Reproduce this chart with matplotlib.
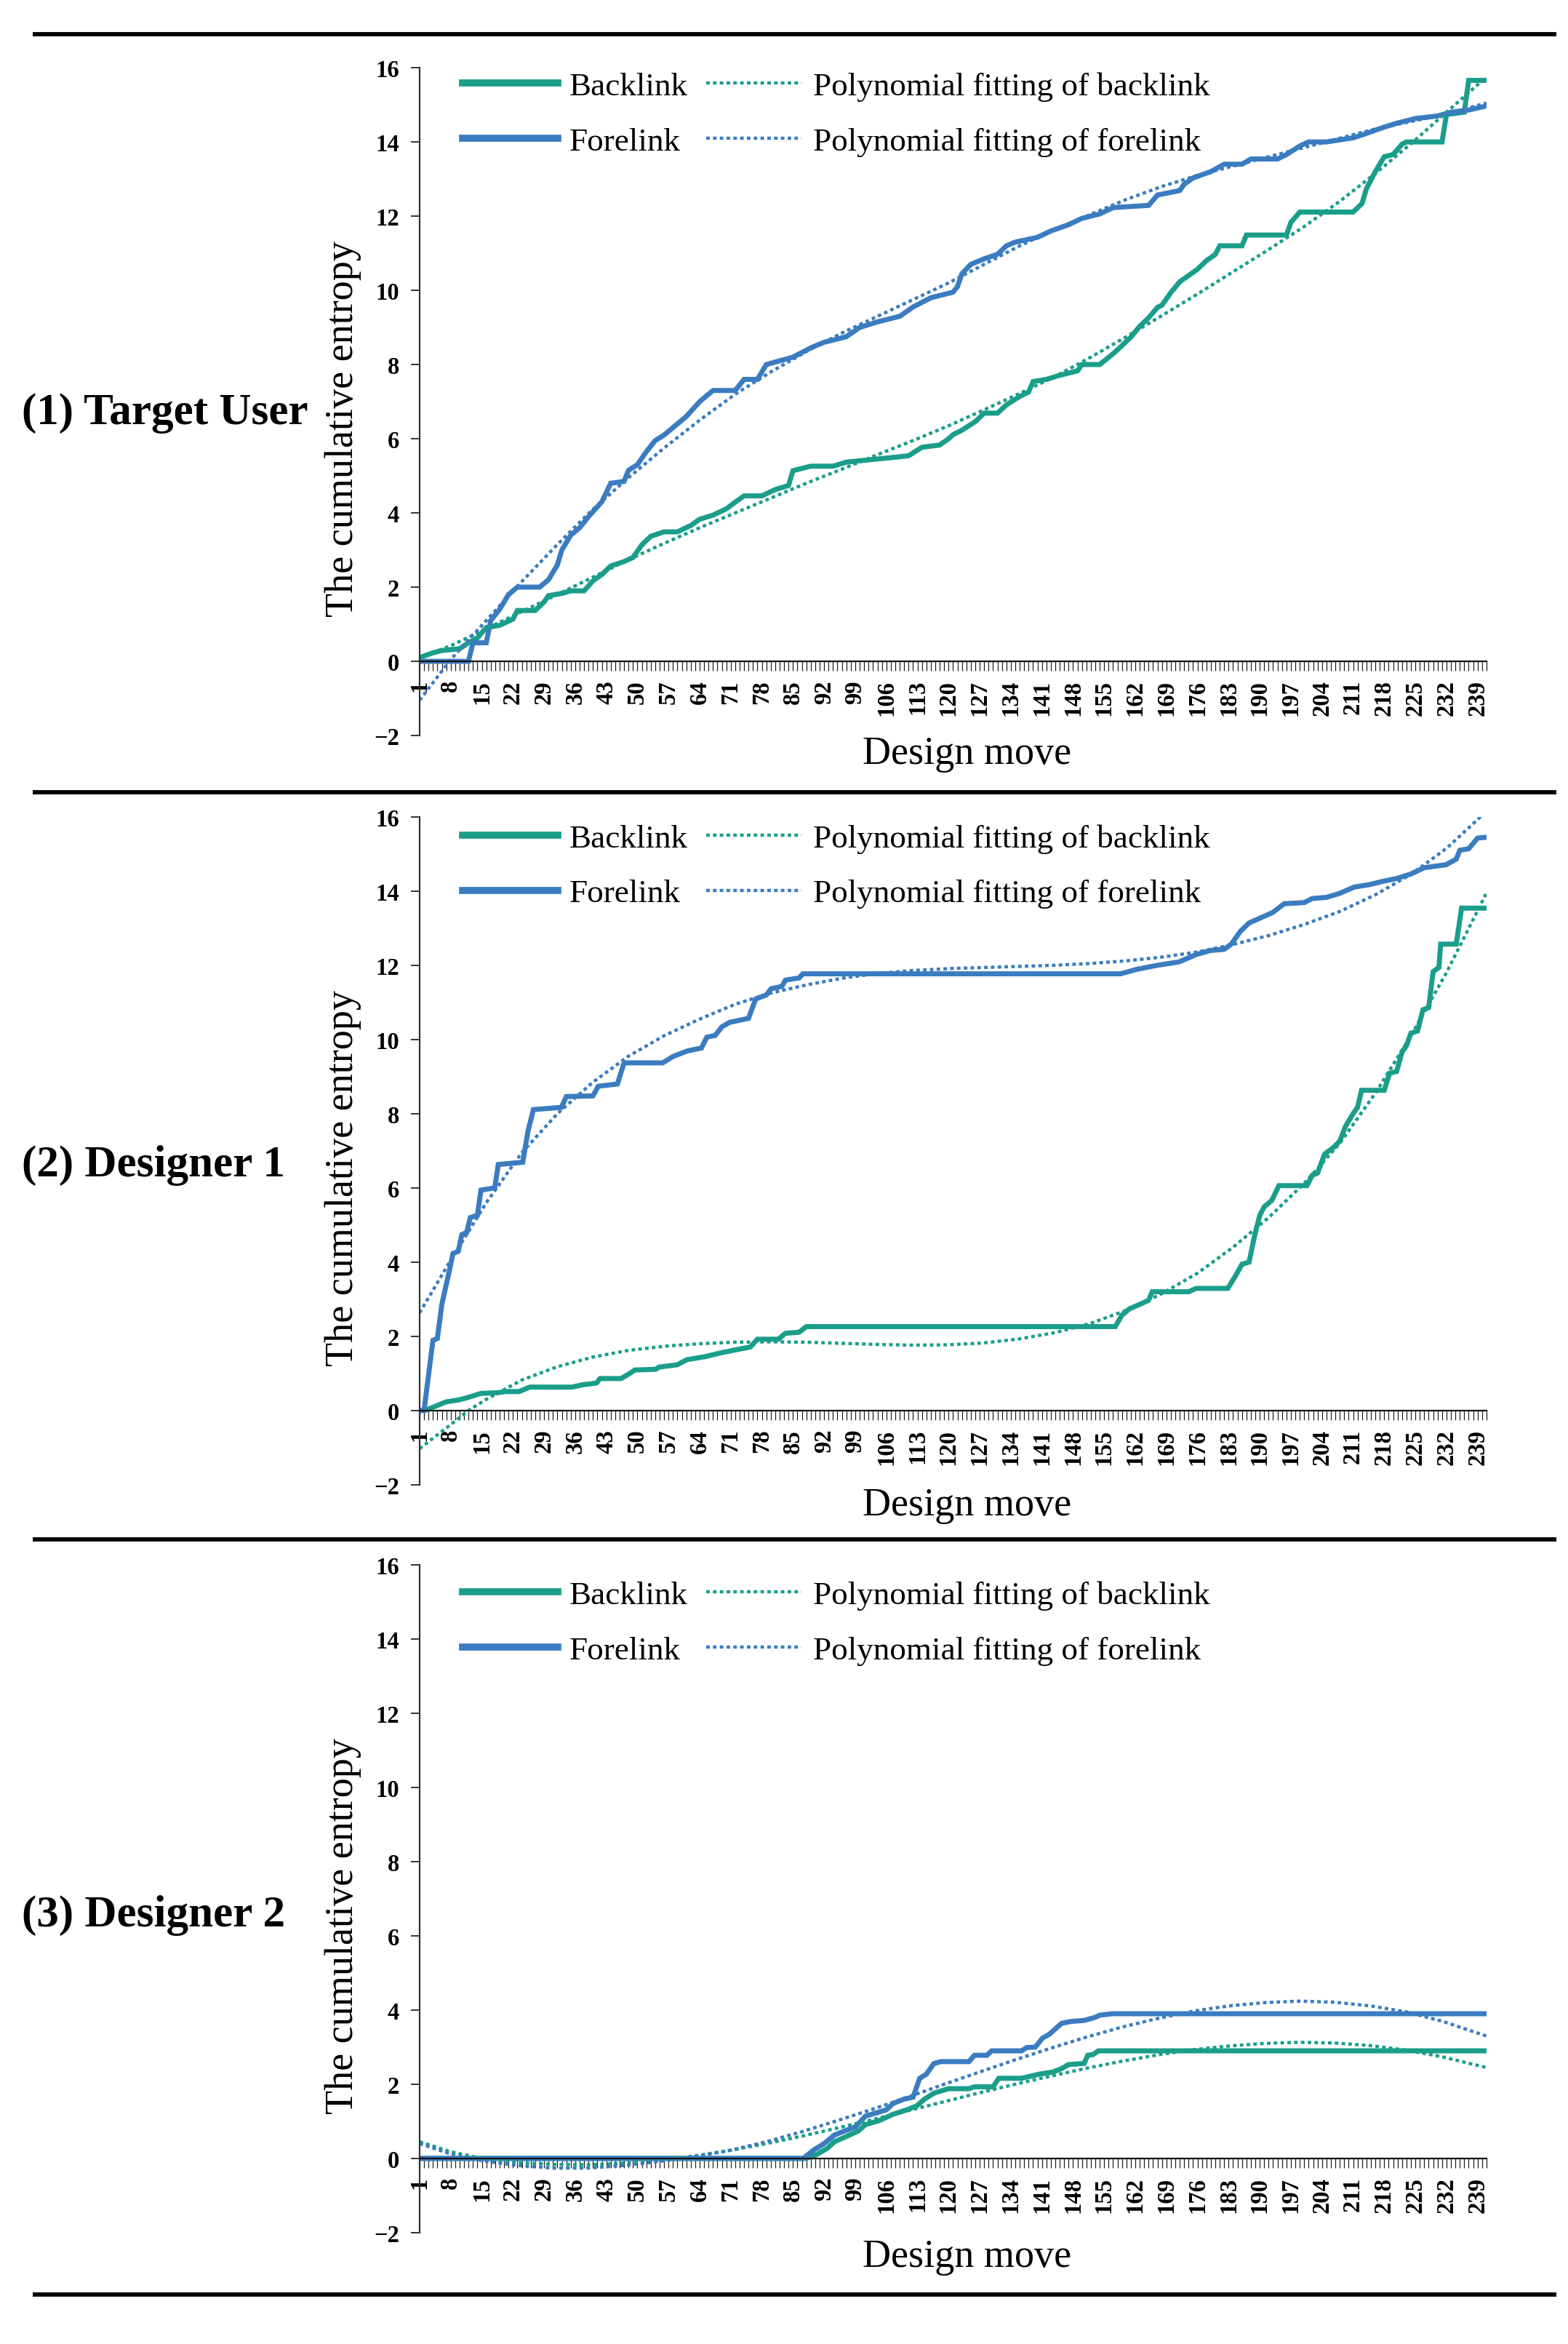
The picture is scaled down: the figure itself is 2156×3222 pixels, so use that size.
import matplotlib
matplotlib.use("Agg")
import matplotlib.pyplot as plt
from matplotlib.lines import Line2D
from matplotlib.font_manager import FontProperties

plt.rcParams['font.family'] = ['Liberation Serif', 'DejaVu Serif']
plt.rcParams['axes.unicode_minus'] = True

# ---------------- data ----------------
moves = list(range(1, 242))                 # design-move categories
label_moves = list(range(1, 240, 7))        # labelled categories 1, 8, ..., 239
y_ticks = [-2, 0, 2, 4, 6, 8, 10, 12, 14, 16]

panel_titles = ['(1) Target User', '(2) Designer 1', '(3) Designer 2']
series_names = ['Backlink', 'Forelink',
                'Polynomial fitting of backlink', 'Polynomial fitting of forelink']
x_title = 'Design move'
y_title = 'The cumulative entropy'

# (1) Target user -- cumulative entropy (move, value) change points
p1_back = [(1, 0.1), (4, 0.23), (6, 0.29), (10, 0.34), (12, 0.5), (14, 0.63), (16, 0.91), (19, 0.97),
           (22, 1.14), (23, 1.37), (27, 1.37), (29, 1.6), (30, 1.77), (33, 1.83), (35, 1.9), (38, 1.9),
           (40, 2.17), (42, 2.34), (44, 2.57), (47, 2.69), (49, 2.8), (51, 3.14), (53, 3.37), (56, 3.49),
           (59, 3.49), (62, 3.66), (64, 3.83), (67, 3.94), (70, 4.11), (72, 4.29), (74, 4.46), (78, 4.46),
           (81, 4.63), (84, 4.74), (85, 5.14), (89, 5.26), (94, 5.26), (97, 5.37), (102, 5.43), (107, 5.49),
           (111, 5.54), (114, 5.77), (118, 5.83), (120, 6.0), (121, 6.11), (123, 6.23), (126, 6.46),
           (128, 6.69), (131, 6.69), (133, 6.91), (136, 7.14), (138, 7.26), (139, 7.54), (142, 7.6),
           (145, 7.71), (149, 7.83), (150, 8.0), (154, 8.0), (157, 8.29), (159, 8.51), (161, 8.74),
           (163, 9.03), (165, 9.26), (167, 9.54), (168, 9.6), (170, 9.94), (172, 10.23), (174, 10.4),
           (176, 10.57), (178, 10.8), (180, 10.97), (181, 11.2), (186, 11.2), (187, 11.49), (196, 11.49),
           (197, 11.83), (199, 12.11), (211, 12.11), (213, 12.34), (214, 12.74), (216, 13.2), (218, 13.6),
           (220, 13.66), (222, 13.94), (223, 14.0), (231, 14.0), (232, 14.74), (236, 14.8), (237, 15.66),
           (241, 15.66)]
p1_fore = [(1, 0.0), (12, 0.0), (13, 0.5), (16, 0.5), (17, 1.1), (19, 1.4), (21, 1.8), (23, 2.0), (28, 2.0),
           (30, 2.2), (32, 2.6), (33, 3.0), (35, 3.4), (37, 3.6), (39, 3.9), (42, 4.3), (44, 4.8), (47, 4.85),
           (48, 5.15), (50, 5.3), (52, 5.65), (54, 5.95), (56, 6.1), (58, 6.3), (61, 6.6), (64, 7.0),
           (67, 7.3), (72, 7.3), (74, 7.6), (77, 7.6), (79, 8.0), (82, 8.1), (85, 8.2), (89, 8.45), (92, 8.6),
           (97, 8.75), (100, 9.0), (104, 9.15), (109, 9.3), (112, 9.55), (116, 9.8), (121, 9.95), (122, 10.1),
           (123, 10.45), (125, 10.7), (128, 10.85), (131, 10.97), (133, 11.2), (135, 11.3), (140, 11.43),
           (143, 11.6), (147, 11.77), (150, 11.94), (154, 12.06), (157, 12.23), (165, 12.29), (167, 12.57),
           (172, 12.69), (173, 12.86), (175, 13.03), (179, 13.2), (182, 13.4), (186, 13.4), (188, 13.54),
           (194, 13.54), (196, 13.66), (199, 13.89), (201, 14.0), (205, 14.0), (211, 14.11), (214, 14.23),
           (218, 14.4), (221, 14.51), (225, 14.63), (230, 14.7), (233, 14.8), (237, 14.86), (241, 14.97)]
p1_back_fit = [(1, 0.1), (8, 0.42), (16, 0.88), (24, 1.34), (32, 1.8), (40, 2.27), (48, 2.74), (56, 3.18),
               (64, 3.6), (72, 4.0), (80, 4.4), (88, 4.8), (96, 5.18), (104, 5.57), (112, 5.95), (120, 6.35),
               (128, 6.78), (136, 7.22), (144, 7.68), (152, 8.2), (160, 8.75), (168, 9.32), (176, 9.9),
               (184, 10.5), (192, 11.1), (200, 11.72), (208, 12.4), (216, 13.15), (224, 13.95), (232, 14.8),
               (241, 15.75)]
p1_fore_fit = [(1, -1.05), (8, 0.05), (16, 1.1), (24, 2.15), (32, 3.15), (40, 4.1), (48, 4.95), (56, 5.75),
               (64, 6.5), (72, 7.2), (80, 7.8), (88, 8.35), (96, 8.85), (104, 9.3), (112, 9.75), (120, 10.2),
               (128, 10.7), (136, 11.2), (144, 11.65), (152, 12.05), (160, 12.45), (168, 12.8), (176, 13.1),
               (184, 13.35), (192, 13.6), (200, 13.85), (208, 14.1), (216, 14.35), (224, 14.55), (232, 14.75),
               (241, 15.05)]

# (2) Designer 1
p2_back = [(1, 0.0), (2.2, 0.0), (4.5, 0.11), (6.9, 0.23), (10, 0.29), (11.6, 0.34), (14.8, 0.46), (18.7, 0.48),
           (20.3, 0.51), (23.4, 0.51), (25.8, 0.63), (35.3, 0.63), (37.6, 0.69), (40.8, 0.74), (41.6, 0.86),
           (46.3, 0.86), (47.9, 0.97), (49.4, 1.09), (54.1, 1.11), (54.9, 1.17), (58.9, 1.23), (61.2, 1.37),
           (65.2, 1.45), (68.3, 1.54), (71.5, 1.62), (75.4, 1.71), (77, 1.92), (81.7, 1.92), (83.3, 2.08),
           (86.4, 2.11), (88, 2.26), (157.5, 2.26), (159, 2.57), (160.7, 2.74), (163, 2.86), (165, 2.97),
           (165.8, 3.2), (174, 3.2), (175.7, 3.29), (182.8, 3.29), (184.4, 3.6), (186, 3.94), (187.6, 4.0),
           (188.8, 4.69), (190, 5.26), (191, 5.49), (192.7, 5.66), (194.3, 6.06), (200.6, 6.06), (201.8, 6.34),
           (203, 6.4), (204.6, 6.91), (206.6, 7.09), (208, 7.26), (209.3, 7.66), (211, 8.0), (212, 8.17),
           (212.9, 8.63), (218, 8.63), (219.2, 9.09), (220.8, 9.14), (222, 9.66), (223, 9.83), (224, 10.17),
           (225.5, 10.23), (226.7, 10.8), (228, 10.86), (229, 11.83), (230.3, 11.94), (230.7, 12.57),
           (234.2, 12.57), (235.4, 13.54), (241, 13.54)]
p2_fore = [(1, 0.0), (2, 0.0), (4, 1.89), (5, 1.94), (6, 2.86), (7.7, 3.77), (8.5, 4.23), (9.7, 4.29),
           (10.5, 4.74), (11.6, 4.8), (12.4, 5.2), (14, 5.26), (14.8, 5.94), (17.9, 6.0), (18.7, 6.63),
           (24.2, 6.69), (25.4, 7.54), (26.6, 8.11), (32.9, 8.17), (34, 8.46), (40, 8.48), (41.2, 8.74),
           (45.5, 8.8), (47, 9.37), (55.7, 9.37), (58, 9.54), (61.2, 9.69), (64.4, 9.77), (65.6, 10.06),
           (67.5, 10.11), (69, 10.34), (70.7, 10.46), (75, 10.57), (76.6, 11.09), (79, 11.2), (80.1, 11.37),
           (82.5, 11.43), (83.3, 11.6), (86.4, 11.66), (87.2, 11.77), (158.7, 11.77), (162.3, 11.89),
           (167, 12.0), (171.8, 12.09), (173.4, 12.17), (175.7, 12.29), (179, 12.4), (182, 12.43),
           (183.6, 12.57), (185.6, 12.91), (187.6, 13.14), (190.8, 13.31), (193, 13.43), (195.5, 13.66),
           (200, 13.69), (201.8, 13.8), (205, 13.83), (208, 13.94), (211.3, 14.11), (214.5, 14.17),
           (217.6, 14.26), (220.8, 14.34), (224, 14.46), (227, 14.63), (231.9, 14.71), (234.2, 14.86),
           (235, 15.1), (237, 15.14), (239, 15.43), (241, 15.45)]
p2_back_fit = [(1, -1.03), (8, -0.38), (12, 0.0), (16, 0.3), (24, 0.82), (32, 1.18), (40, 1.44), (48, 1.62),
               (56, 1.73), (64, 1.8), (72, 1.84), (80, 1.85), (88, 1.84), (96, 1.81), (104, 1.78), (112, 1.76),
               (120, 1.77), (128, 1.82), (136, 1.93), (144, 2.1), (152, 2.35), (160, 2.7), (168, 3.15),
               (176, 3.7), (184, 4.4), (192, 5.2), (200, 6.12), (208, 7.2), (216, 8.55), (224, 10.1),
               (232, 11.8), (241, 13.95)]
p2_fore_fit = [(1, 2.63), (8, 4.05), (16, 5.6), (24, 6.95), (32, 8.0), (40, 8.85), (48, 9.55), (56, 10.1),
               (64, 10.55), (72, 10.95), (80, 11.25), (88, 11.47), (96, 11.65), (104, 11.78), (112, 11.86),
               (120, 11.91), (128, 11.94), (136, 11.97), (144, 12.0), (152, 12.05), (160, 12.12), (168, 12.22),
               (176, 12.36), (184, 12.56), (192, 12.8), (200, 13.1), (208, 13.45), (216, 13.9), (224, 14.45),
               (232, 15.15), (241, 16.15)]

# (3) Designer 2
p3_back = [(1, 0.0), (88, 0.0), (90.4, 0.11), (92.8, 0.28), (94.3, 0.45), (96.6, 0.57), (99.7, 0.74),
           (101.3, 0.91), (104.4, 1.02), (107.5, 1.19), (110.6, 1.31), (112.9, 1.42), (114.5, 1.59),
           (116.7, 1.76), (120, 1.88), (124.6, 1.88), (125.8, 1.93), (130, 1.93), (131.3, 2.16), (136.4, 2.16),
           (140.3, 2.27), (143.5, 2.33), (145.4, 2.42), (147, 2.53), (150.5, 2.56), (151.3, 2.78),
           (152.5, 2.8), (153.7, 2.9), (241, 2.9)]
p3_fore = [(1, 0.0), (87.3, 0.0), (89.7, 0.23), (92, 0.4), (94.3, 0.63), (96.6, 0.74), (99, 0.85),
           (101.3, 1.14), (104.4, 1.25), (106, 1.31), (107.5, 1.48), (110, 1.6), (112, 1.65), (113.5, 2.16),
           (115, 2.27), (116.7, 2.56), (118.3, 2.61), (124.6, 2.61), (125.8, 2.78), (128.6, 2.78),
           (129.7, 2.9), (136.4, 2.9), (137.6, 2.99), (139.5, 3.0), (141.1, 3.24), (142.7, 3.35),
           (145.4, 3.64), (147.4, 3.69), (150.5, 3.72), (152.9, 3.8), (154, 3.86), (156.8, 3.9), (241, 3.9)]
p3_back_fit = [(1, 0.45), (8, 0.18), (15, 0.0), (23, -0.11), (31, -0.16), (39, -0.17), (47, -0.13), (55, -0.05),
               (63, 0.07), (71, 0.22), (79, 0.4), (87, 0.6), (95, 0.82), (103, 1.05), (111, 1.29), (119, 1.53),
               (127, 1.77), (135, 2.0), (143, 2.22), (151, 2.43), (159, 2.62), (167, 2.79), (175, 2.93),
               (183, 3.03), (191, 3.1), (199, 3.13), (207, 3.11), (215, 3.04), (223, 2.92), (231, 2.74),
               (241, 2.45)]
p3_fore_fit = [(1, 0.4), (8, 0.12), (15, -0.06), (23, -0.19), (31, -0.26), (39, -0.26), (47, -0.19), (55, -0.08),
               (63, 0.05), (71, 0.22), (79, 0.45), (87, 0.72), (95, 1.02), (103, 1.33), (111, 1.66), (119, 2.0),
               (127, 2.33), (135, 2.66), (143, 2.97), (151, 3.27), (159, 3.54), (167, 3.77), (175, 3.97),
               (183, 4.11), (191, 4.2), (199, 4.24), (207, 4.21), (215, 4.11), (223, 3.95), (231, 3.7),
               (241, 3.3)]

panels = [(p1_back, p1_fore, p1_back_fit, p1_fore_fit),
          (p2_back, p2_fore, p2_back_fit, p2_fore_fit),
          (p3_back, p3_fore, p3_back_fit, p3_fore_fit)]

# ---------------- style ----------------
TEAL = '#1a9e8a'
BLUE = '#3b7cc0'
W, H, DPI = 2156, 3223, 100
FONT = 'Liberation Serif'

fig = plt.figure(figsize=(W / DPI, H / DPI), dpi=DPI)
fig.patch.set_facecolor('white')

ax_left, ax_width, ax_height = 0.2676, 0.6804, 0.2848
ax_tops = [0.9708, 0.6513, 0.3323]
title_y = [0.8237, 0.5030, 0.1830]
legend_y = [0.994, 0.990, 0.977]
xlabel_y = [-0.027, -0.031, -0.036]
rule_y = [0.9851, 0.6618, 0.3432, 0.0211]

for i, (back, fore, bfit, ffit) in enumerate(panels):
    ax = fig.add_axes([ax_left, ax_tops[i] - ax_height, ax_width, ax_height])
    lb, = ax.plot([p[0] for p in back], [p[1] for p in back], color=TEAL, lw=5,
                  solid_joinstyle='miter', label=series_names[0])
    lf, = ax.plot([p[0] for p in fore], [p[1] for p in fore], color=BLUE, lw=5,
                  solid_joinstyle='miter', label=series_names[1])
    lbf, = ax.plot([p[0] for p in bfit], [p[1] for p in bfit], color=TEAL, lw=3.2,
                   linestyle=(0, (1.1, 1.0)), label=series_names[2])
    lff, = ax.plot([p[0] for p in ffit], [p[1] for p in ffit], color=BLUE, lw=3.2,
                   linestyle=(0, (1.1, 1.0)), label=series_names[3])

    ax.set_xlim(moves[0], moves[-1])
    ax.set_ylim(y_ticks[0], y_ticks[-1])
    ax.set_facecolor('none')

    for s in ('top', 'right'):
        ax.spines[s].set_visible(False)
    ax.spines['bottom'].set_position(('data', 0))
    ax.spines['bottom'].set_color('#111111')
    ax.spines['bottom'].set_linewidth(1.6)
    ax.spines['left'].set_color('#333333')
    ax.spines['left'].set_linewidth(1.6)

    ax.set_xticks(moves)
    ax.set_xticklabels([str(m) if m in label_moves else '' for m in moves],
                       rotation=90, fontweight='bold', fontsize=23.5, family=FONT)
    ax.tick_params(axis='x', direction='out', length=9, width=0.9, color='#222222', pad=9)
    ax.set_yticks(y_ticks)
    ax.set_yticklabels(['\u22122' if v < 0 else str(v) for v in y_ticks],
                       fontweight='bold', fontsize=23.5, family=FONT)
    ax.tick_params(axis='y', direction='out', length=9, width=1.4, color='#333333', pad=11)

    ax.set_ylabel(y_title, fontsize=39, family=FONT)
    ax.yaxis.set_label_coords(-0.0716, 0.46)
    ax.yaxis.label.set_va('center')
    ax.yaxis.label.set_ha('center')
    ax.set_xlabel(x_title, fontsize=39, family=FONT)
    ax.xaxis.set_label_coords(0.513, xlabel_y[i])
    ax.xaxis.label.set_va('center')

    leg = ax.legend(handles=[lb, lf, lbf, lff], labels=series_names, ncol=2,
                    loc='upper left', bbox_to_anchor=(0.040, legend_y[i]),
                    frameon=False, borderpad=0, borderaxespad=0,
                    handlelength=2.9, handletextpad=0.36, columnspacing=0.55,
                    labelspacing=0.78, prop=FontProperties(family=FONT, size=32.5))
    for h in leg.legend_handles[:2]:
        h.set_linewidth(7)

    fig.text(0.0139, title_y[i], panel_titles[i], ha='left', va='center',
             fontsize=44, fontweight='bold', family=FONT)

for y in rule_y:
    fig.add_artist(Line2D([0.0209, 0.9926], [y, y], transform=fig.transFigure,
                          color='black', lw=4.2, solid_capstyle='butt'))

fig.savefig('out.png', dpi=DPI, facecolor='white')
